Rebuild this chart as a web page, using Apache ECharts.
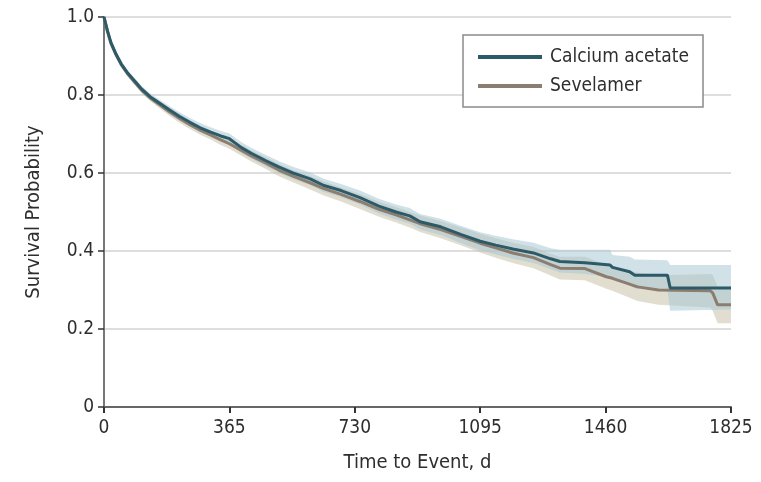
<!DOCTYPE html>
<html>
<head>
<meta charset="utf-8">
<title>Survival curves</title>
<script src="https://cdn.jsdelivr.net/npm/echarts@6/dist/echarts.min.js"></script>
<style>
  html, body { margin: 0; padding: 0; background: #fff; }
  #chart { width: 761px; height: 482px; }
</style>
</head>
<body>
<div id="chart"></div>
<script>
// 数据：时间（天）与生存概率，以及 95% 置信区间
const xTicks = [0, 365, 730, 1095, 1460, 1825]
const yTicks = [0, 0.2, 0.4, 0.6, 0.8, 1.0]

const caTimes = [0, 10, 20, 35, 50, 70, 90, 110, 135, 160, 190, 220, 250, 280, 310, 340, 365, 400, 430, 470, 510, 550, 600, 640, 690, 745, 800, 850, 890, 920, 980, 1040, 1095, 1140, 1190, 1250, 1300, 1327, 1400, 1473, 1480, 1530, 1545, 1640, 1648, 1825]
const caSurv = [1.0, 0.965, 0.935, 0.905, 0.88, 0.855, 0.835, 0.815, 0.795, 0.78, 0.762, 0.745, 0.73, 0.716, 0.705, 0.695, 0.688, 0.665, 0.65, 0.632, 0.615, 0.6, 0.585, 0.568, 0.555, 0.537, 0.515, 0.5, 0.49, 0.475, 0.462, 0.442, 0.425, 0.415, 0.405, 0.395, 0.38, 0.373, 0.37, 0.364, 0.358, 0.347, 0.338, 0.338, 0.305, 0.305]
const caLower = [1.0, 0.962, 0.931, 0.9, 0.874, 0.848, 0.828, 0.807, 0.787, 0.771, 0.752, 0.734, 0.719, 0.704, 0.693, 0.682, 0.675, 0.651, 0.636, 0.617, 0.6, 0.584, 0.569, 0.551, 0.538, 0.519, 0.496, 0.481, 0.47, 0.455, 0.441, 0.42, 0.402, 0.391, 0.38, 0.369, 0.353, 0.345, 0.341, 0.333, 0.326, 0.314, 0.304, 0.302, 0.247, 0.25]
const caUpper = [1.0, 0.968, 0.939, 0.91, 0.886, 0.862, 0.842, 0.823, 0.803, 0.789, 0.772, 0.756, 0.741, 0.728, 0.717, 0.708, 0.701, 0.679, 0.664, 0.647, 0.63, 0.616, 0.601, 0.585, 0.572, 0.555, 0.534, 0.519, 0.51, 0.495, 0.483, 0.464, 0.448, 0.439, 0.43, 0.421, 0.407, 0.403, 0.403, 0.403, 0.39, 0.385, 0.378, 0.376, 0.364, 0.364]

const svTimes = [0, 10, 20, 35, 50, 70, 90, 110, 135, 160, 190, 220, 250, 280, 310, 340, 365, 400, 430, 470, 510, 550, 600, 640, 690, 745, 800, 850, 890, 920, 980, 1040, 1095, 1140, 1190, 1250, 1300, 1327, 1400, 1462, 1480, 1553, 1614, 1765, 1772, 1786, 1825]
const svSurv = [1.0, 0.963, 0.933, 0.903, 0.878, 0.853, 0.832, 0.812, 0.792, 0.776, 0.757, 0.74, 0.724, 0.71, 0.698, 0.685, 0.675, 0.658, 0.643, 0.626, 0.607, 0.592, 0.575, 0.56, 0.545, 0.527, 0.507, 0.493, 0.48, 0.47, 0.455, 0.437, 0.42, 0.408, 0.395, 0.383, 0.365, 0.356, 0.355, 0.334, 0.33, 0.308, 0.3, 0.298, 0.292, 0.262, 0.262]
const svLower = [1.0, 0.96, 0.929, 0.898, 0.872, 0.846, 0.825, 0.804, 0.784, 0.767, 0.747, 0.729, 0.713, 0.698, 0.686, 0.672, 0.662, 0.644, 0.629, 0.611, 0.591, 0.576, 0.558, 0.542, 0.527, 0.508, 0.488, 0.473, 0.46, 0.449, 0.433, 0.414, 0.396, 0.383, 0.369, 0.356, 0.337, 0.327, 0.325, 0.303, 0.298, 0.272, 0.262, 0.255, 0.246, 0.215, 0.215]
const svUpper = [1.0, 0.966, 0.937, 0.908, 0.884, 0.86, 0.839, 0.82, 0.8, 0.785, 0.767, 0.751, 0.735, 0.722, 0.71, 0.698, 0.688, 0.672, 0.657, 0.641, 0.623, 0.608, 0.592, 0.578, 0.563, 0.546, 0.526, 0.513, 0.5, 0.491, 0.477, 0.46, 0.444, 0.433, 0.421, 0.41, 0.393, 0.385, 0.385, 0.365, 0.362, 0.344, 0.338, 0.341, 0.338, 0.309, 0.309]

const font = '"DejaVu Sans Condensed", "Liberation Sans Narrow", sans-serif'
const textColor = '#2e2e2e'

function pairs (times, values) {
  return times.map((t, i) => [t, values[i]])
}

// 置信区间带：上界正向 + 下界反向 组成多边形
function bandSeries (times, lower, upper, color) {
  return {
    type: 'custom',
    silent: true,
    z: 1,
    data: [[times[0], upper[0]]],
    renderItem: (params, api) => {
      const points = []
      times.forEach((t, i) => points.push(api.coord([t, upper[i]])))
      for (let i = times.length - 1; i >= 0; i--) {
        points.push(api.coord([times[i], lower[i]]))
      }
      return {
        type: 'polygon',
        shape: { points: points },
        style: { fill: color }
      }
    }
  }
}

const chart = echarts.init(document.getElementById('chart'))

const option = {
  animation: false,
  textStyle: { fontFamily: font },
  grid: { left: 104, right: 30, top: 17, bottom: 75 },
  legend: {
    data: ['Calcium acetate', 'Sevelamer'],
    orient: 'vertical',
    left: 463,
    top: 35,
    padding: [11, 14, 10, 15],
    itemGap: 7,
    itemWidth: 64,
    itemHeight: 4,
    icon: 'rect',
    borderColor: '#8a8a8a',
    borderWidth: 1.5,
    backgroundColor: '#fff',
    textStyle: { fontFamily: font, fontSize: 19, color: textColor, lineHeight: 22, padding: [0, 0, 0, 3] }
  },
  xAxis: {
    type: 'value',
    min: xTicks[0],
    max: xTicks[xTicks.length - 1],
    interval: 365,
    name: 'Time to Event, d',
    nameLocation: 'middle',
    nameGap: 46,
    nameTextStyle: { fontFamily: font, fontSize: 20, color: textColor },
    axisLine: { lineStyle: { color: '#666', width: 2 } },
    axisTick: { show: true, length: 6, lineStyle: { color: '#333', width: 2 } },
    axisLabel: {
      fontFamily: font,
      fontSize: 19,
      color: textColor,
      margin: 12,
      formatter: v => String(v)
    },
    splitLine: { show: false }
  },
  yAxis: {
    type: 'value',
    min: yTicks[0],
    max: yTicks[yTicks.length - 1],
    interval: 0.2,
    name: 'Survival Probability',
    nameLocation: 'middle',
    nameGap: 60,
    nameTextStyle: { fontFamily: font, fontSize: 20, color: textColor },
    axisLine: { show: true, lineStyle: { color: '#777', width: 2 } },
    axisTick: { show: true, length: 6, lineStyle: { color: '#333', width: 1.5 } },
    axisLabel: {
      fontFamily: font,
      fontSize: 19,
      color: textColor,
      margin: 10,
      formatter: v => (v === 0 ? '0' : v.toFixed(1))
    },
    splitLine: { show: true, lineStyle: { color: '#dedede', width: 2 } }
  },
  series: [
    bandSeries(svTimes, svLower, svUpper, 'rgba(200, 193, 168, 0.55)'),
    bandSeries(caTimes, caLower, caUpper, 'rgba(170, 200, 214, 0.55)'),
    {
      name: 'Sevelamer',
      type: 'line',
      symbol: 'none',
      z: 3,
      color: '#8b7d70',
      lineStyle: { width: 3, color: '#8b7d70' },
      data: pairs(svTimes, svSurv)
    },
    {
      name: 'Calcium acetate',
      type: 'line',
      symbol: 'none',
      z: 4,
      color: '#2c5a69',
      lineStyle: { width: 3, color: '#2c5a69' },
      data: pairs(caTimes, caSurv)
    }
  ]
}

chart.setOption(option)
</script>
</body>
</html>
